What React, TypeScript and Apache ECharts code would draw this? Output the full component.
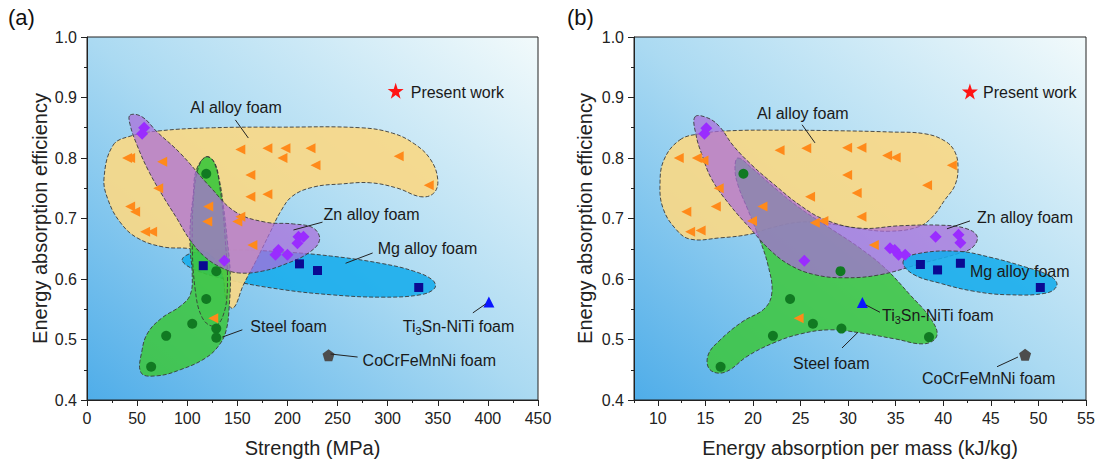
import React, { useEffect, useRef } from "react";
import * as echarts from "echarts";

const FONT = 'Arial, "Liberation Sans", Helvetica, sans-serif';

// ---------- axis ticks ----------
const yTickInterval = 0.1;
const xTicksB = [10, 15, 20, 25, 30, 35, 40, 45, 50, 55];
const xMinorTicksB = [7.5, 12.5, 17.5, 22.5, 27.5, 32.5, 37.5, 42.5, 47.5, 52.5];

// ---------- panel (a): strength (MPa) vs efficiency ----------
const alFoamA = [[40,0.80],[43,0.80],[75,0.794],[71,0.75],[43,0.72],[48,0.711],[58,0.678],[65,0.678],[153,0.814],[180,0.816],[198,0.816],[195,0.80],[223,0.816],[228,0.788],[163,0.772],[163,0.736],[180,0.74],[121,0.72],[120,0.695],[150,0.695],[153,0.703],[165,0.656],[126,0.535],[311,0.803],[341,0.755]];
const znFoamA = [[57,0.85],[55,0.84],[137,0.63],[191,0.648],[188,0.64],[200,0.64],[211,0.67],[216,0.67],[210,0.659]];
const mgFoamA = [[116,0.622],[212,0.625],[230,0.614],[331,0.586]];
const steelFoamA = [[119,0.774],[129,0.613],[119,0.567],[105,0.526],[129,0.518],[129,0.503],[79,0.506],[64,0.455]];
const presentA = [[308,0.911]];
const ti3snA = [[401,0.562]];
const cocrA = [[241,0.474]];

// region outlines (data units)
const alRegionA = [[26,0.821],[43,0.836],[73,0.845],[126,0.850],[193,0.851],[273,0.850],[305,0.841],[327,0.823],[343,0.797],[350,0.764],[346,0.742],[333,0.736],[310,0.750],[283,0.759],[253,0.757],[226,0.752],[205,0.737],[193,0.711],[183,0.678],[168,0.628],[156,0.590],[146,0.552],[139,0.565],[135,0.607],[123,0.640],[103,0.650],[76,0.653],[50,0.668],[33,0.694],[21,0.731],[17,0.767]];
const znRegionA = [[43,0.871],[55,0.868],[70,0.843],[93,0.808],[123,0.752],[148,0.711],[178,0.694],[206,0.691],[226,0.684],[232,0.664],[221,0.643],[200,0.626],[175,0.613],[151,0.610],[135,0.618],[118,0.636],[103,0.664],[89,0.702],[75,0.739],[61,0.780],[50,0.821],[43,0.855]];
const mgRegionA = [[95,0.631],[105,0.643],[143,0.648],[193,0.645],[243,0.638],[293,0.626],[326,0.613],[345,0.598],[347,0.585],[333,0.574],[293,0.570],[243,0.574],[193,0.583],[143,0.598],[108,0.615]];
const steelRegionA = [[119,0.802],[127,0.793],[132,0.764],[136,0.722],[140,0.664],[143,0.607],[142,0.557],[139,0.516],[132,0.491],[118,0.469],[93,0.450],[70,0.440],[54,0.445],[55,0.483],[61,0.512],[75,0.536],[93,0.555],[103,0.574],[105,0.607],[103,0.648],[103,0.689],[106,0.739],[109,0.780]];
const steelLobeA = [[119,0.802],[127,0.792],[133,0.747],[138,0.664],[140,0.582],[135,0.536],[126,0.522],[115,0.536],[108,0.582],[105,0.664],[107,0.747],[112,0.788]];

// ---------- panel (b): energy absorption per mass (kJ/kg) vs efficiency ----------
const alFoamB = [[12.2,0.80],[14.1,0.80],[14.8,0.796],[22.8,0.813],[25.6,0.816],[29.9,0.817],[31.4,0.817],[29.9,0.772],[16.4,0.75],[26.0,0.736],[30.9,0.742],[13.0,0.711],[16.1,0.72],[21.0,0.72],[19.9,0.696],[26.5,0.693],[27.4,0.696],[31.4,0.703],[34.1,0.804],[35.0,0.801],[40.9,0.788],[38.3,0.755],[13.4,0.678],[14.5,0.68],[32.7,0.656],[24.8,0.535]];
const znFoamB = [[15.1,0.849],[14.9,0.84],[25.4,0.63],[39.2,0.67],[41.6,0.673],[41.8,0.66],[34.4,0.651],[34.9,0.648],[35.3,0.64],[36.0,0.64]];
const mgFoamB = [[37.6,0.624],[39.4,0.615],[41.8,0.626],[50.2,0.586]];
const steelFoamB = [[19.0,0.774],[29.2,0.613],[23.9,0.567],[26.3,0.526],[29.3,0.518],[22.1,0.506],[16.6,0.455],[38.5,0.504]];
const presentB = [[42.8,0.91]];
const ti3snB = [[31.5,0.561]];
const cocrB = [[48.6,0.475]];

const alRegionB = [[12.33,0.830],[14.44,0.840],[17.59,0.845],[22.84,0.846],[29.15,0.845],[34.4,0.843],[38.08,0.840],[40.18,0.828],[41.23,0.810],[41.55,0.783],[41.23,0.755],[40.18,0.731],[38.82,0.702],[37.35,0.686],[34.4,0.679],[31.25,0.683],[28.1,0.691],[24.94,0.694],[21.79,0.684],[19.69,0.674],[16.54,0.668],[13.38,0.666],[11.81,0.684],[10.55,0.717],[10.23,0.755],[10.65,0.797]];
const znRegionB = [[13.91,0.868],[15.28,0.866],[16.54,0.851],[17.9,0.821],[19.9,0.788],[22.32,0.755],[24.94,0.722],[27.57,0.698],[31.25,0.684],[35.45,0.688],[39.66,0.689],[42.28,0.684],[43.55,0.671],[43.13,0.653],[41.76,0.643],[37.56,0.625],[33.35,0.607],[29.67,0.602],[26.52,0.607],[23.89,0.623],[21.79,0.648],[19.69,0.684],[17.59,0.722],[15.7,0.764],[14.65,0.805],[14.02,0.838]];
const mgRegionB = [[35.77,0.628],[37.03,0.641],[41.44,0.646],[44.91,0.636],[48.38,0.621],[51.22,0.605],[51.95,0.590],[50.9,0.577],[46.7,0.574],[43.13,0.580],[39.66,0.593],[36.82,0.608]];
const steelRegionB = [[18.43,0.800],[19.9,0.783],[22.32,0.750],[24.94,0.717],[28.1,0.684],[31.25,0.651],[33.88,0.618],[36.5,0.574],[38.61,0.536],[39.34,0.507],[38.08,0.493],[34.93,0.501],[31.25,0.511],[28.1,0.516],[24.94,0.509],[22.11,0.494],[19.48,0.473],[17.06,0.446],[15.49,0.450],[15.28,0.474],[16.54,0.499],[18.85,0.529],[21.27,0.552],[22.0,0.579],[21.58,0.623],[20.74,0.664],[19.48,0.714],[18.43,0.755],[18.11,0.783]];

// ---------- annotations (data units) ----------
const notesA = [
  { text: "Al alloy foam", at: [103, 0.883], from: [148, 0.863], to: [161, 0.833] },
  { text: "Zn alloy foam", at: [236, 0.707], from: [235, 0.694], to: [206, 0.681] },
  { text: "Mg alloy foam", at: [290, 0.651], from: [285, 0.643], to: [258, 0.626] },
  { text: "Steel foam", at: [163, 0.522], from: [155, 0.516], to: [135, 0.504] },
  { text: "Ti{s|3}Sn-NiTi foam", at: [315, 0.522], from: [385, 0.544], to: [398, 0.559] },
  { text: "CoCrFeMnNi foam", at: [275, 0.466], from: [243, 0.476], to: [270, 0.471] },
  { text: "Present work", at: [323, 0.909] },
];
const notesB = [
  { text: "Al alloy foam", at: [20.43, 0.874], from: [25.16, 0.855], to: [26.52, 0.825] },
  { text: "Present work", at: [44.18, 0.909] },
  { text: "Zn alloy foam", at: [43.55, 0.702], from: [42.81, 0.696], to: [40.39, 0.683] },
  { text: "Mg alloy foam", at: [42.81, 0.612] },
  { text: "Ti{s|3}Sn-NiTi foam", at: [33.56, 0.54], from: [33.35, 0.545], to: [31.88, 0.557] },
  { text: "Steel foam", at: [24.21, 0.46], from: [29.36, 0.486], to: [31.04, 0.512] },
  { text: "CoCrFeMnNi foam", at: [37.77, 0.436], from: [45.65, 0.455], to: [47.85, 0.471] },
];

const STAR = "path://M50,0 L61.8,35.1 L98.1,35.1 L68.8,56.8 L79.4,91.4 L50,70 L20.6,91.4 L31.2,56.8 L1.9,35.1 L38.2,35.1 Z";
const PENTAGON = "path://M50,0 L97.6,34.5 L79.4,90.5 L20.6,90.5 L2.4,34.5 Z";

const FILL_AL = "rgba(248,216,136,0.93)";
const FILL_ZN = "rgba(170,108,218,0.72)";
const FILL_MG = "rgba(22,172,236,0.88)";
const FILL_STEEL = "rgba(60,198,60,0.86)";

function regionSeries(outline: number[][], axis: number, fill: string, z: number) {
  return {
    type: "custom",
    xAxisIndex: axis,
    yAxisIndex: axis,
    z,
    silent: true,
    clip: false,
    data: [outline[0]],
    encode: { x: 0, y: 1 },
    renderItem: (params: any, api: any) => {
      const pts = outline.map((p) => api.coord(p));
      return {
        type: "polygon",
        shape: { points: pts, smooth: 0.4 },
        style: { fill, stroke: "#3a3a3a", lineWidth: 0.9, lineDash: [4, 2] },
      };
    },
  };
}

function notesSeries(items: any[], axis: number) {
  return {
    type: "custom",
    xAxisIndex: axis,
    yAxisIndex: axis,
    z: 30,
    silent: true,
    clip: false,
    data: items.map((n) => n.at),
    encode: { x: 0, y: 1 },
    renderItem: (params: any, api: any) => {
      const n = items[params.dataIndex];
      const p = api.coord(n.at);
      const children: any[] = [
        {
          type: "text",
          x: p[0],
          y: p[1],
          style: {
            text: n.text,
            fill: "#1a1a1a",
            fontSize: 16,
            fontFamily: FONT,
            align: "left",
            verticalAlign: "middle",
            rich: {
              s: { fontSize: 11, fontFamily: FONT, fill: "#1a1a1a", padding: [9, 0, 0, 0] },
            },
          },
        },
      ];
      if (n.from) {
        const f = api.coord(n.from);
        const t = api.coord(n.to);
        children.push({
          type: "line",
          shape: { x1: f[0], y1: f[1], x2: t[0], y2: t[1] },
          style: { stroke: "#222", lineWidth: 1 },
        });
      }
      return { type: "group", children };
    },
  };
}

function scatter(data: number[][], axis: number, symbol: string, size: number, color: string, rotate = 0) {
  return {
    type: "scatter",
    xAxisIndex: axis,
    yAxisIndex: axis,
    z: 10,
    data,
    symbol,
    symbolSize: size,
    symbolRotate: rotate,
    itemStyle: { color, opacity: 1 },
    silent: true,
  };
}

const axisBase = {
  type: "value",
  axisLine: { show: true, onZero: false, lineStyle: { color: "#222", width: 1 } },
  axisTick: { show: true, inside: false, length: 6, lineStyle: { color: "#222" } },
  minorTick: { show: true, splitNumber: 2, length: 3, lineStyle: { color: "#222" } },
  splitLine: { show: false },
  minorSplitLine: { show: false },
  axisLabel: { color: "#222", fontSize: 16, fontFamily: FONT, margin: 10 },
  nameLocation: "middle",
  nameTextStyle: { color: "#222", fontSize: 20, fontFamily: FONT },
};

function bg() {
  return new echarts.graphic.LinearGradient(0, 1, 1, 0, [
    { offset: 0, color: "#4fade9" },
    { offset: 0.5, color: "#abdaf2" },
    { offset: 1, color: "#f2fafb" },
  ]);
}

function buildOption() {
  return {
    animation: false,
    graphic: [
      { type: "text", left: 8, top: 6, style: { text: "(a)", fontSize: 22, fontFamily: FONT, fill: "#111" } },
      { type: "text", left: 567, top: 6, style: { text: "(b)", fontSize: 22, fontFamily: FONT, fill: "#111" } },
    ],
    grid: [
      { left: 87, top: 37, width: 451, height: 363, show: true, backgroundColor: bg(), borderColor: "#222", borderWidth: 1, outerBoundsMode: "none" },
      { left: 634, top: 37, width: 452, height: 363, show: true, backgroundColor: bg(), borderColor: "#222", borderWidth: 1, outerBoundsMode: "none" },
    ],
    xAxis: [
      { ...axisBase, gridIndex: 0, min: 0, max: 450, interval: 50, name: "Strength (MPa)", nameGap: 38 },
      {
        ...axisBase,
        gridIndex: 1,
        min: 7.5,
        max: 55,
        name: "Energy absorption per mass (kJ/kg)",
        nameGap: 38,
        minorTick: { show: false },
        axisTick: { show: true, inside: false, length: 6, lineStyle: { color: "#222" }, customValues: xTicksB },
        axisLabel: { color: "#222", fontSize: 16, fontFamily: FONT, margin: 10, customValues: xTicksB },
      },
      {
        type: "value",
        gridIndex: 1,
        min: 7.5,
        max: 55,
        position: "bottom",
        axisLine: { show: false },
        axisLabel: { show: false },
        splitLine: { show: false },
        axisTick: { show: true, inside: false, length: 3, lineStyle: { color: "#222" }, customValues: xMinorTicksB },
      },
    ],
    yAxis: [0, 1].map((g) => ({
      ...axisBase,
      gridIndex: g,
      min: 0.4,
      max: 1.0,
      interval: yTickInterval,
      name: "Energy absorption efficiency",
      nameGap: g === 0 ? 37 : 39,
      axisLabel: { ...axisBase.axisLabel, formatter: (v: number) => v.toFixed(1) },
    })),
    series: [
      regionSeries(mgRegionA, 0, FILL_MG, 1),
      regionSeries(alRegionA, 0, FILL_AL, 2),
      regionSeries(steelRegionA, 0, FILL_STEEL, 3),
      regionSeries(steelLobeA, 0, "rgba(60,198,60,0.35)", 3),
      regionSeries(znRegionA, 0, FILL_ZN, 4),
      scatter(alFoamA, 0, "triangle", 10, "#ff8a1a", 90),
      scatter(znFoamA, 0, "diamond", 12, "#9a2cff"),
      scatter(mgFoamA, 0, "rect", 9, "#0a0a92"),
      scatter(steelFoamA, 0, "circle", 10, "#117a22"),
      scatter(presentA, 0, STAR, 16, "#ff1414"),
      scatter(ti3snA, 0, "triangle", 11, "#0a16ff"),
      scatter(cocrA, 0, PENTAGON, 12, "#4d4d4d"),
      notesSeries(notesA, 0),

      regionSeries(alRegionB, 1, FILL_AL, 1),
      regionSeries(steelRegionB, 1, FILL_STEEL, 2),
      regionSeries(znRegionB, 1, FILL_ZN, 3),
      regionSeries(mgRegionB, 1, FILL_MG, 4),
      scatter(alFoamB, 1, "triangle", 10, "#ff8a1a", 90),
      scatter(znFoamB, 1, "diamond", 12, "#9a2cff"),
      scatter(mgFoamB, 1, "rect", 9, "#0a0a92"),
      scatter(steelFoamB, 1, "circle", 10, "#117a22"),
      scatter(presentB, 1, STAR, 16, "#ff1414"),
      scatter(ti3snB, 1, "triangle", 11, "#0a16ff"),
      scatter(cocrB, 1, PENTAGON, 12, "#4d4d4d"),
      notesSeries(notesB, 1),
    ],
  };
}

export default function App() {
  const ref = useRef<HTMLDivElement>(null);
  useEffect(() => {
    const chart = echarts.init(ref.current!, null, { renderer: "svg" });
    chart.setOption(buildOption() as any);
    return () => chart.dispose();
  }, []);
  return (
    <div
      ref={ref}
      style={{ position: "absolute", left: 0, top: 0, width: 1097, height: 465, background: "#fff" }}
    />
  );
}
